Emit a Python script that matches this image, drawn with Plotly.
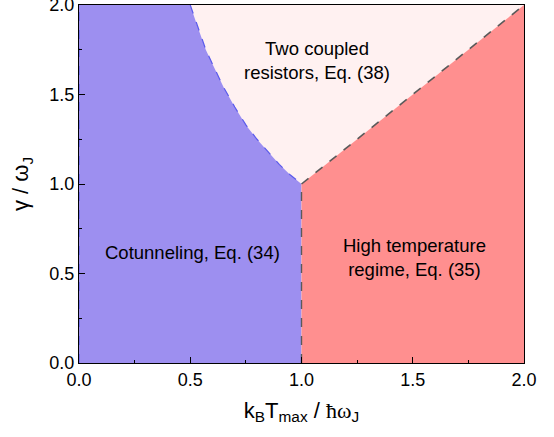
import plotly.graph_objects as go

# Boundary between cotunneling and two-coupled-resistors regimes
curve_x = [0.5, 0.53, 0.57, 0.6, 0.65, 0.7, 0.75, 0.8, 0.85, 0.9, 0.95, 1.0]
curve_y = [2.0, 1.89, 1.75, 1.67, 1.54, 1.43, 1.33, 1.25, 1.18, 1.11, 1.05, 1.0]
# Boundary between two-coupled-resistors and high-temperature regimes
diag_x = [1.0, 2.0]
diag_y = [1.0, 2.0]
# Vertical boundary between cotunneling and high-temperature regimes
vert_x = [1.0, 1.0]
vert_y = [0.0, 1.0]
x_range = [0.0, 2.0]
y_range = [0.0, 2.0]
tick_vals = [0.0, 0.5, 1.0, 1.5, 2.0]
tick_text = ["0.0", "0.5", "1.0", "1.5", "2.0"]

labels = ["Two coupled<br>resistors, Eq. (38)", "Cotunneling, Eq. (34)", "High temperature<br>regime, Eq. (35)"]
label_x = [1.07, 0.51, 1.51]
label_y = [1.69, 0.62, 0.59]

BLUE = "rgb(157,143,240)"
RED = "rgb(255,143,143)"
PINK = "rgb(255,241,241)"
FONT = "Liberation Sans, Arial"

fig = go.Figure()

# pink region (upper)
fig.add_trace(go.Scatter(x=curve_x + diag_x[1:] + [curve_x[0]],
                         y=curve_y + diag_y[1:] + [curve_y[0]],
                         fill="toself", fillcolor=PINK, mode="none", hoverinfo="skip"))
# blue region
bx = [x_range[0], x_range[0]] + curve_x + [vert_x[0], x_range[0]]
by = [y_range[0], y_range[1]] + curve_y + [vert_y[0], y_range[0]]
fig.add_trace(go.Scatter(x=bx, y=by, fill="toself", fillcolor=BLUE, mode="none", hoverinfo="skip"))
# red region
rx = vert_x + diag_x[1:] + [x_range[1], vert_x[0]]
ry = vert_y + diag_y[1:] + [y_range[0], vert_y[0]]
fig.add_trace(go.Scatter(x=rx, y=ry, fill="toself", fillcolor=RED, mode="none", hoverinfo="skip"))

# dashed boundary lines
fig.add_trace(go.Scatter(x=curve_x, y=curve_y, mode="lines",
                         line=dict(color="rgb(90,90,235)", width=1.2, dash="dash")))
fig.add_trace(go.Scatter(x=[x_range[0], x_range[0]], y=y_range, mode="lines",
                         line=dict(color="rgb(90,90,235)", width=1.2, dash="dash")))
fig.add_trace(go.Scatter(x=diag_x, y=diag_y, mode="lines",
                         line=dict(color="rgb(90,90,90)", width=1.6, dash="dash")))
fig.add_trace(go.Scatter(x=vert_x, y=vert_y, mode="lines",
                         line=dict(color="rgb(90,90,90)", width=1.4, dash="dash")))

for t, xx, yy in zip(labels, label_x, label_y):
    fig.add_annotation(x=xx, y=yy, text=t, showarrow=False,
                       font=dict(family=FONT, size=18.5, color="black"))

axis_common = dict(
    showgrid=False, zeroline=False, showline=True, linecolor="black", linewidth=1.2,
    mirror=True, ticks="inside", ticklen=6, tickwidth=1, tickcolor="black",
    tickvals=tick_vals, ticktext=tick_text, automargin=False,
    ticklabeloverflow="allow",
    tickfont=dict(family=FONT, size=18, color="black"),
    minor=dict(ticks="inside", ticklen=3, tickwidth=1, tickcolor="black", dtick=0.25),
)

fig.update_xaxes(range=x_range, **axis_common,
                 title=dict(text="k<sub>B</sub>T<sub>max</sub> / <span style='font-family:Liberation Serif'>ħω</span><sub>J</sub>",
                            font=dict(family=FONT, size=22, color="black"),
                            standoff=13))
fig.update_yaxes(range=y_range, **axis_common,
                 title=dict(text="γ / ω<sub>J</sub>",
                            font=dict(family=FONT, size=22, color="black"),
                            standoff=14))

fig.update_layout(
    width=554, height=437,
    margin=dict(l=79, r=30, t=5, b=74),
    paper_bgcolor="white", plot_bgcolor="white",
    showlegend=False,
)

fig.write_html("out.html", config={"displayModeBar": False},
               post_script="document.body.style.margin='0';document.body.style.overflow='hidden';")
